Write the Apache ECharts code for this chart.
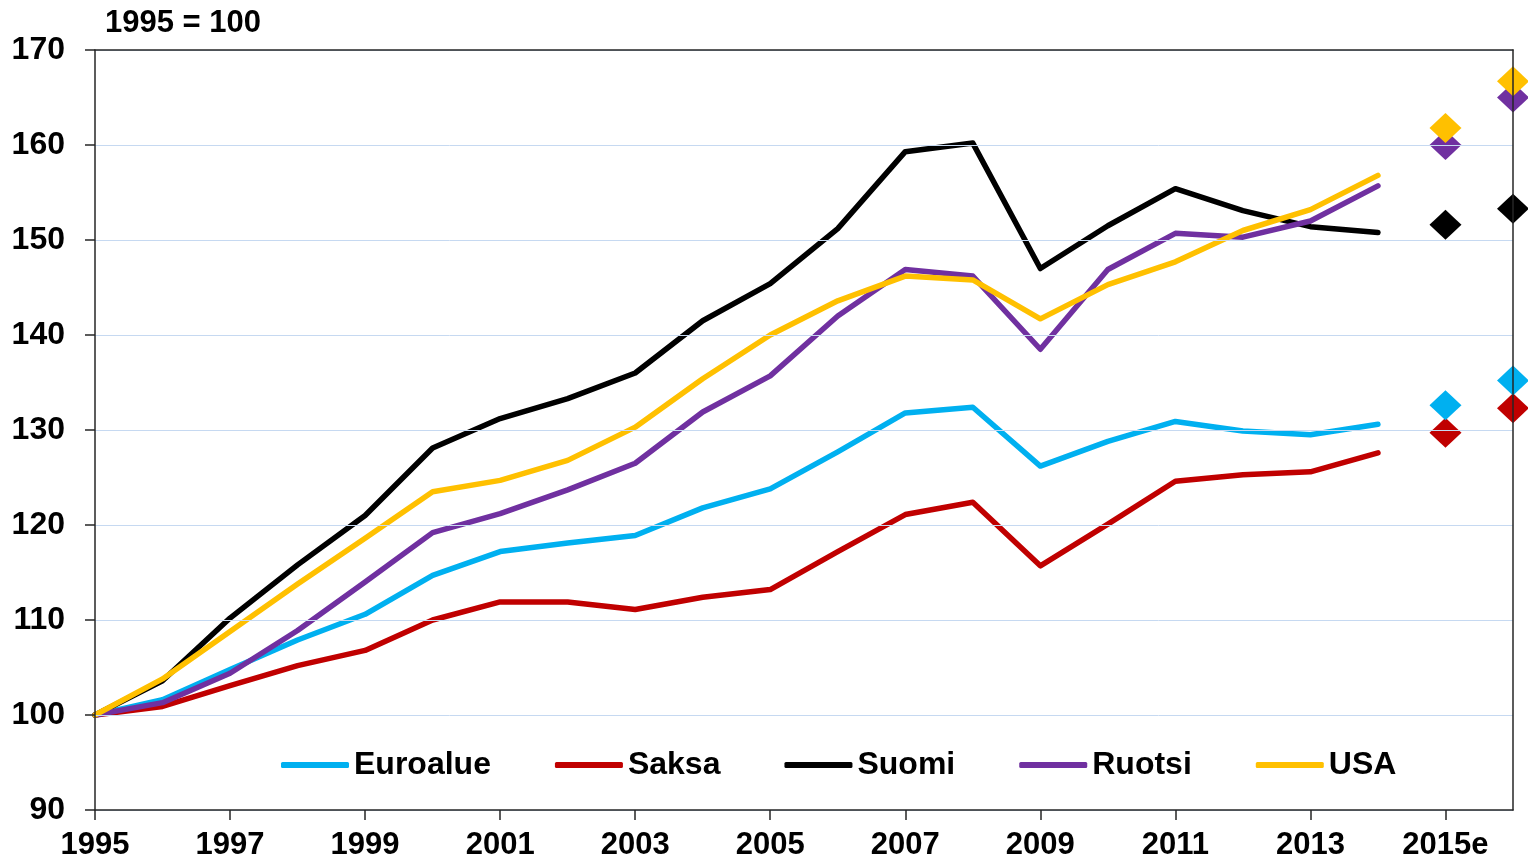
<!DOCTYPE html>
<html>
<head>
<meta charset="utf-8">
<title>1995 = 100</title>
<script src="https://cdn.jsdelivr.net/npm/echarts@6/dist/echarts.min.js"></script>
<style>
  html, body { margin: 0; padding: 0; background: #fff; }
  #main { width: 1528px; height: 865px; }
</style>
</head>
<body>
<div id="main"></div>
<script>
// x categories, last two are the forecast columns
const years = ['1995', '1996', '1997', '1998', '1999', '2000', '2001', '2002', '2003', '2004',
  '2005', '2006', '2007', '2008', '2009', '2010', '2011', '2012', '2013', '2014', '2015e', '2016'];

// index, 1995 = 100 (1995-2014)
const euroalue = [100, 101.6, 104.8, 107.9, 110.6, 114.7, 117.2, 118.1, 118.9, 121.8,
  123.8, 127.7, 131.8, 132.4, 126.2, 128.8, 130.9, 129.9, 129.5, 130.6];
const saksa = [100, 100.9, 103.1, 105.2, 106.8, 110.0, 111.9, 111.9, 111.1, 112.4,
  113.2, 117.2, 121.1, 122.4, 115.7, 120.1, 124.6, 125.3, 125.6, 127.6];
const suomi = [100, 103.6, 110.2, 115.8, 121.0, 128.1, 131.2, 133.3, 136.0, 141.5,
  145.4, 151.2, 159.3, 160.2, 147.0, 151.5, 155.4, 153.1, 151.4, 150.8];
const ruotsi = [100, 101.3, 104.4, 108.9, 114.0, 119.2, 121.2, 123.7, 126.5, 131.9,
  135.7, 142.0, 146.9, 146.2, 138.5, 146.9, 150.7, 150.3, 152.0, 155.7];
const usa = [100, 103.8, 108.8, 113.8, 118.6, 123.5, 124.7, 126.8, 130.3, 135.4,
  140.0, 143.6, 146.2, 145.8, 141.7, 145.3, 147.7, 151.0, 153.2, 156.8];

// forecasts (2015e, 2016)
const forecastYears = ['2015e', '2016'];
const euroalueFc = [132.6, 135.2];
const saksaFc = [129.7, 132.3];
const suomiFc = [151.6, 153.3];
const ruotsiFc = [160.0, 165.0];
const usaFc = [161.8, 166.7];

const yTicks = { min: 90, max: 170, step: 10 };

const colors = {
  Euroalue: '#00B0F0',
  Saksa: '#C00000',
  Suomi: '#000000',
  Ruotsi: '#7030A0',
  USA: '#FFC000'
};

const FONT = "'Liberation Sans', Arial, sans-serif";
const axisColor = '#262626';

function lineSeries(name, values) {
  return {
    name: name,
    type: 'line',
    data: values,
    symbol: 'none',
    color: colors[name],
    lineStyle: { width: 5.5, color: colors[name], join: 'round', cap: 'round' },
    z: 3
  };
}

function diamondSeries(name, values) {
  return {
    name: name + ' ennuste',
    type: 'scatter',
    data: values.map((v, i) => [forecastYears[i], v]),
    symbol: 'diamond',
    symbolSize: [32, 30],
    itemStyle: { color: colors[name], opacity: 1 },
    z: 4
  };
}

const chart = echarts.init(document.getElementById('main'));

const option = {
  animation: false,
  backgroundColor: '#fff',
  title: {
    text: '1995 = 100',
    left: 100,
    top: 3,
    textStyle: { fontFamily: FONT, fontSize: 31, fontWeight: 'bold', color: '#000' }
  },
  legend: {
    data: ['Euroalue', 'Saksa', 'Suomi', 'Ruotsi', 'USA'],
    left: 276,
    top: 744,
    icon: 'roundRect',
    itemWidth: 68,
    itemHeight: 6,
    itemGap: 64,
    textStyle: { fontFamily: FONT, fontSize: 32, fontWeight: 'bold', color: '#000' }
  },
  grid: { left: 95, right: 15, top: 50, bottom: 55 },
  xAxis: [
    {
      type: 'category',
      data: years,
      boundaryGap: false,
      z: 5,
      axisLine: { onZero: false, lineStyle: { color: axisColor, width: 1.5 } },
      axisTick: { interval: 1, length: 10, lineStyle: { color: axisColor, width: 1.5 } },
      axisLabel: {
        interval: 1,
        margin: 20,
        fontFamily: FONT,
        fontSize: 31,
        fontWeight: 'bold',
        color: '#000'
      },
      splitLine: { show: false }
    },
    {
      type: 'category',
      data: years,
      boundaryGap: false,
      position: 'top',
      z: 5,
      axisLine: { onZero: false, lineStyle: { color: axisColor, width: 1.5 } },
      axisTick: { show: false },
      axisLabel: { show: false },
      splitLine: { show: false }
    }
  ],
  yAxis: [
    {
      type: 'value',
      min: yTicks.min,
      max: yTicks.max,
      interval: yTicks.step,
      z: 5,
      axisLine: { show: true, onZero: false, lineStyle: { color: axisColor, width: 1.5 } },
      axisTick: { show: true, length: 10, lineStyle: { color: axisColor, width: 1.5 } },
      axisLabel: {
        margin: 30,
        fontFamily: FONT,
        fontSize: 32,
        fontWeight: 'bold',
        color: '#000'
      },
      splitLine: { show: true, lineStyle: { color: '#C6D9F1', width: 1 } }
    },
    {
      type: 'value',
      min: yTicks.min,
      max: yTicks.max,
      interval: yTicks.step,
      position: 'right',
      z: 5,
      axisLine: { show: true, onZero: false, lineStyle: { color: axisColor, width: 1.5 } },
      axisTick: { show: false },
      axisLabel: { show: false },
      splitLine: { show: false }
    }
  ],
  series: [
    lineSeries('Euroalue', euroalue),
    lineSeries('Saksa', saksa),
    lineSeries('Suomi', suomi),
    lineSeries('Ruotsi', ruotsi),
    lineSeries('USA', usa),
    diamondSeries('Saksa', saksaFc),
    diamondSeries('Euroalue', euroalueFc),
    diamondSeries('Suomi', suomiFc),
    diamondSeries('Ruotsi', ruotsiFc),
    diamondSeries('USA', usaFc)
  ]
};

chart.setOption(option);
</script>
</body>
</html>
